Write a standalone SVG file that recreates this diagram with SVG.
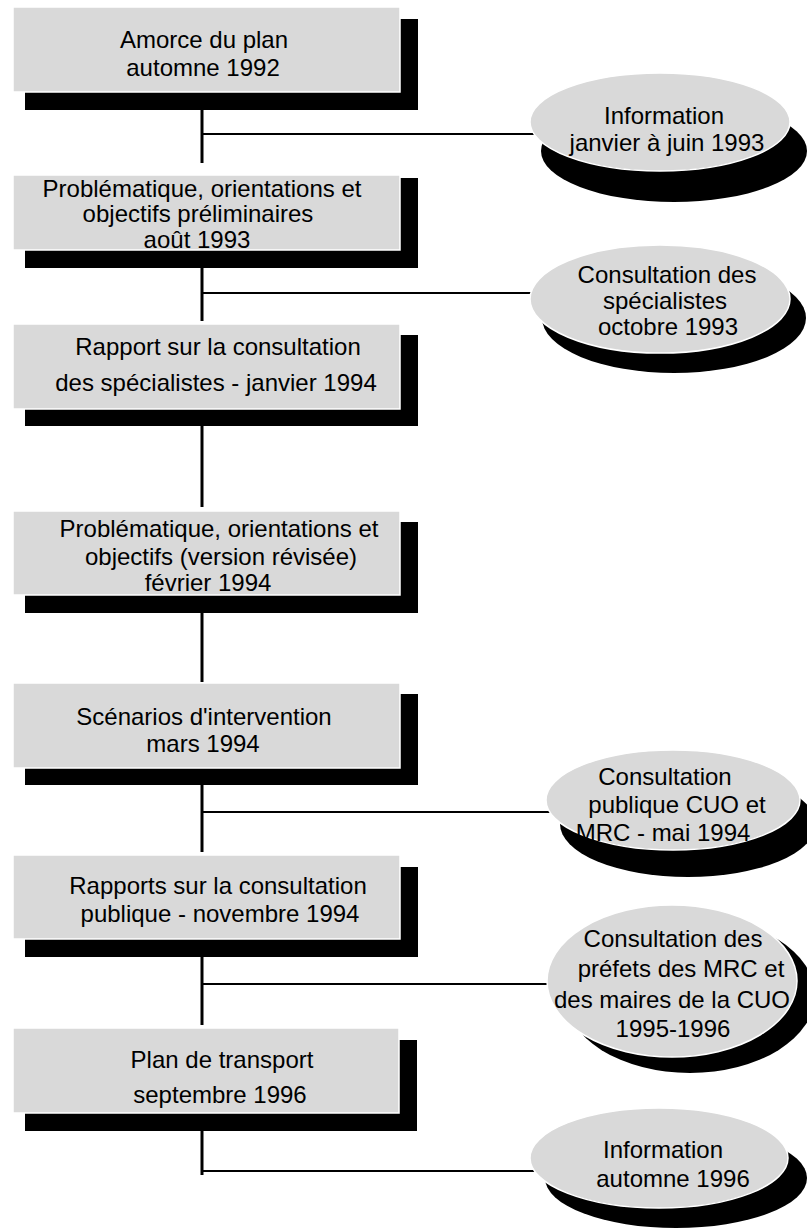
<svg xmlns="http://www.w3.org/2000/svg" width="807" height="1230" viewBox="0 0 807 1230">
<style>
.sh{fill:#000}
.bg{fill:#d9d9d9;stroke:#fff;stroke-width:1.5}
.t{font-family:"Liberation Sans",Arial,sans-serif;font-size:24px;fill:#000;text-anchor:middle}
.v{stroke:#000;stroke-width:3;fill:none}
.h{stroke:#000;stroke-width:2;fill:none}
</style>
<rect width="807" height="1230" fill="#fff"/>
<g id="connectors">
<line class="v" x1="202" y1="110" x2="202" y2="163"/>
<line class="h" x1="202" y1="134" x2="540" y2="134"/>
<line class="v" x1="202" y1="267" x2="202" y2="321"/>
<line class="h" x1="202" y1="293" x2="540" y2="293"/>
<line class="v" x1="202" y1="426" x2="202" y2="507"/>
<line class="v" x1="202" y1="613" x2="202" y2="682"/>
<line class="v" x1="202" y1="785" x2="202" y2="852"/>
<line class="h" x1="202" y1="812" x2="555" y2="812"/>
<line class="v" x1="202" y1="957" x2="202" y2="1025"/>
<line class="h" x1="202" y1="984" x2="555" y2="984"/>
<line class="v" x1="202" y1="1131" x2="202" y2="1175"/>
<line class="h" x1="202" y1="1171" x2="540" y2="1171"/>
</g>
<g id="n1">
<rect class="sh" x="25" y="19" width="393" height="91"/>
<rect class="bg" x="13" y="7" width="387" height="85"/>
<text class="t" x="204" y="48">Amorce du plan</text>
<text class="t" x="203" y="76">automne 1992</text>
</g>
<g id="n2">
<rect class="sh" x="25" y="178" width="393" height="90"/>
<rect class="bg" x="13" y="175" width="387" height="75"/>
<text class="t" x="202" y="197">Problématique, orientations et</text>
<text class="t" x="198" y="222">objectifs préliminaires</text>
<text class="t" x="197" y="248">août 1993</text>
</g>
<g id="n3">
<rect class="sh" x="25" y="335" width="393" height="91"/>
<rect class="bg" x="13" y="324" width="387" height="85"/>
<text class="t" x="218" y="355">Rapport sur la consultation</text>
<text class="t" x="216" y="391">des spécialistes - janvier 1994</text>
</g>
<g id="n4">
<rect class="sh" x="25" y="522" width="393" height="91"/>
<rect class="bg" x="13" y="511" width="387" height="84"/>
<text class="t" x="219" y="537">Problématique, orientations et</text>
<text class="t" x="221" y="565">objectifs (version révisée)</text>
<text class="t" x="208" y="591">février 1994</text>
</g>
<g id="n5">
<rect class="sh" x="25" y="694" width="393" height="91"/>
<rect class="bg" x="13" y="683" width="387" height="85"/>
<text class="t" x="204" y="725">Scénarios d'intervention</text>
<text class="t" x="203" y="752">mars 1994</text>
</g>
<g id="n6">
<rect class="sh" x="25" y="867" width="393" height="90"/>
<rect class="bg" x="13" y="855" width="387" height="84"/>
<text class="t" x="218" y="894">Rapports sur la consultation</text>
<text class="t" x="220" y="922">publique - novembre 1994</text>
</g>
<g id="n7">
<rect class="sh" x="25" y="1040" width="392" height="91"/>
<rect class="bg" x="13" y="1028" width="386" height="85"/>
<text class="t" x="222" y="1068">Plan de transport</text>
<text class="t" x="220" y="1103">septembre 1996</text>
</g>
<g id="e1">
<ellipse class="sh" cx="674" cy="151" rx="133" ry="51"/>
<ellipse class="bg" cx="660" cy="122" rx="130" ry="49"/>
<text class="t" x="664" y="124">Information</text>
<text class="t" x="667" y="151">janvier à juin 1993</text>
</g>
<g id="e2">
<ellipse class="sh" cx="674" cy="318" rx="132" ry="55"/>
<ellipse class="bg" cx="660" cy="299" rx="130" ry="54"/>
<text class="t" x="667" y="283">Consultation des</text>
<text class="t" x="665" y="309">spécialistes</text>
<text class="t" x="668" y="335">octobre 1993</text>
</g>
<g id="e3">
<ellipse class="sh" cx="688" cy="824" rx="128" ry="53"/>
<ellipse class="bg" cx="673" cy="800" rx="127" ry="50"/>
<text class="t" x="665" y="785">Consultation</text>
<text class="t" x="677" y="813">publique CUO et</text>
<text class="t" x="663" y="841">MRC - mai 1994</text>
</g>
<g id="e4">
<ellipse class="sh" cx="690" cy="995" rx="125" ry="78"/>
<ellipse class="bg" cx="672" cy="981" rx="125" ry="76"/>
<text class="t" x="673" y="947">Consultation des</text>
<text class="t" x="681" y="977">préfets des MRC et</text>
<text class="t" x="672" y="1008">des maires de la CUO</text>
<text class="t" x="673" y="1037">1995-1996</text>
</g>
<g id="e5">
<ellipse class="sh" cx="676" cy="1178" rx="131" ry="50"/>
<ellipse class="bg" cx="659" cy="1158" rx="129" ry="50"/>
<text class="t" x="663" y="1158">Information</text>
<text class="t" x="673" y="1187">automne 1996</text>
</g>
</svg>
